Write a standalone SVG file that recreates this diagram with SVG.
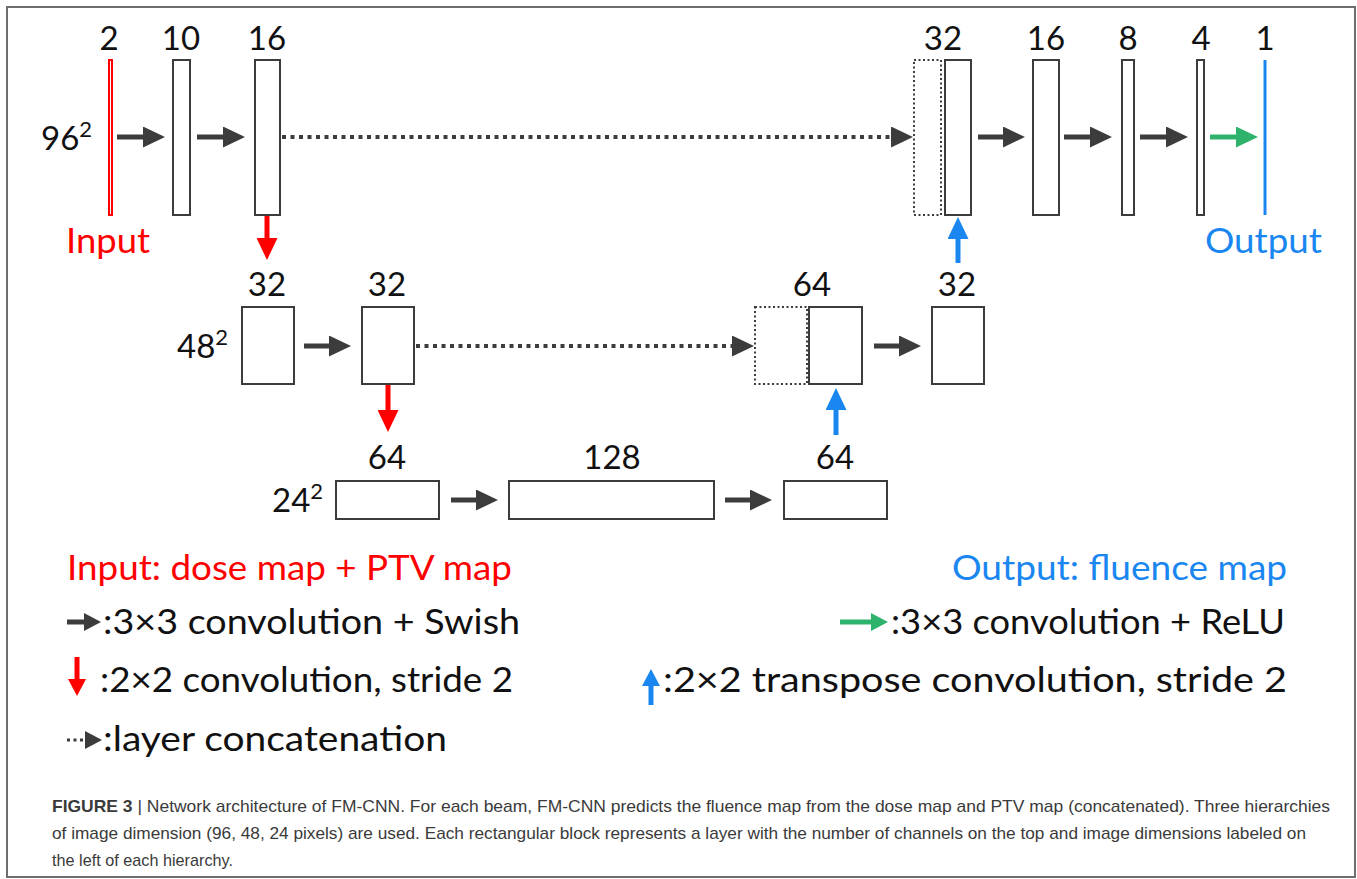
<svg xmlns="http://www.w3.org/2000/svg" width="1357" height="879" viewBox="0 0 1357 879">
  <style>
    .frame { fill: #ffffff; stroke: #6e6e6e; stroke-width: 2; }
    .box { fill: #ffffff; stroke: #3c3c3c; stroke-width: 2; }
    .ghost { fill: none; stroke: #3c3c3c; stroke-width: 2; stroke-dasharray: 2 2.5; }
    .lbl { font-family: Lato, "Open Sans", sans-serif; font-size: 33px; fill: #111111; text-anchor: middle; }
    .dim { font-family: Lato, "Open Sans", sans-serif; font-size: 33px; fill: #111111; }
    .sup { font-size: 22px; }
    .leg { font-family: Lato, "Open Sans", sans-serif; font-size: 34px; fill: #111111; }
    .red { fill: #ff0000; }
    .blue { fill: #1a86f0; }
    .cap { font-family: "Liberation Sans Narrow", "Liberation Sans", Arial, sans-serif; font-size: 17px; fill: #3a3a3a; }
    .conv { stroke: #3c3c3c; stroke-width: 5; fill: none; }
    .cat { stroke: #3c3c3c; stroke-width: 4; stroke-dasharray: 4 4.5; fill: none; }
    .down { stroke: #ff0000; stroke-width: 5; fill: none; }
    .up { stroke: #1a86f0; stroke-width: 5; fill: none; }
    .relu { stroke: #2fb36c; stroke-width: 5; fill: none; }
  </style>
  <defs>
    <marker id="ah-dark" viewBox="0 0 22 21" refX="1" refY="10.5" markerWidth="22" markerHeight="21" markerUnits="userSpaceOnUse" orient="auto">
      <path d="M0,0 L22,10.5 L0,21 Z" fill="#3c3c3c"/>
    </marker>
    <marker id="ah-red" viewBox="0 0 22 21" refX="1" refY="10.5" markerWidth="22" markerHeight="21" markerUnits="userSpaceOnUse" orient="auto">
      <path d="M0,0 L22,10.5 L0,21 Z" fill="#ff0000"/>
    </marker>
    <marker id="ah-blue" viewBox="0 0 22 21" refX="1" refY="10.5" markerWidth="22" markerHeight="21" markerUnits="userSpaceOnUse" orient="auto">
      <path d="M0,0 L22,10.5 L0,21 Z" fill="#1a86f0"/>
    </marker>
    <marker id="ah-green" viewBox="0 0 22 21" refX="1" refY="10.5" markerWidth="22" markerHeight="21" markerUnits="userSpaceOnUse" orient="auto">
      <path d="M0,0 L22,10.5 L0,21 Z" fill="#2fb36c"/>
    </marker>
    <marker id="sm-dark" viewBox="0 0 17 18" refX="1" refY="9" markerWidth="17" markerHeight="18" markerUnits="userSpaceOnUse" orient="auto">
      <path d="M0,0 L17,9 L0,18 Z" fill="#3c3c3c"/>
    </marker>
    <marker id="sm-red" viewBox="0 0 17 18" refX="1" refY="9" markerWidth="17" markerHeight="18" markerUnits="userSpaceOnUse" orient="auto">
      <path d="M0,0 L17,9 L0,18 Z" fill="#ff0000"/>
    </marker>
    <marker id="sm-blue" viewBox="0 0 17 18" refX="1" refY="9" markerWidth="17" markerHeight="18" markerUnits="userSpaceOnUse" orient="auto">
      <path d="M0,0 L17,9 L0,18 Z" fill="#1a86f0"/>
    </marker>
    <marker id="sm-green" viewBox="0 0 17 18" refX="1" refY="9" markerWidth="17" markerHeight="18" markerUnits="userSpaceOnUse" orient="auto">
      <path d="M0,0 L17,9 L0,18 Z" fill="#2fb36c"/>
    </marker>
  </defs>

  <rect class="frame" x="7" y="7" width="1348" height="870"/>

  <!-- resolution labels for each hierarchy -->
  <text class="dim" x="41" y="150">96<tspan class="sup" dy="-13">2</tspan></text>
  <text class="dim" x="177" y="358">48<tspan class="sup" dy="-13">2</tspan></text>
  <text class="dim" x="272" y="512">24<tspan class="sup" dy="-13">2</tspan></text>

  <!-- level 1 (96 x 96) -->
  <g id="node-in">
    <rect x="109" y="60" width="3" height="155" fill="#ffffff" stroke="#ff0000" stroke-width="2"/>
    <text class="lbl" x="109" y="50">2</text>
    <text class="leg red" x="66" y="253" textLength="84" lengthAdjust="spacingAndGlyphs">Input</text>
  </g>
  <g id="node-e10">
    <rect class="box" x="173" y="60" width="17" height="155"/>
    <text class="lbl" x="181" y="50">10</text>
  </g>
  <g id="node-e16">
    <rect class="box" x="255" y="60" width="25" height="155"/>
    <text class="lbl" x="267" y="50">16</text>
  </g>
  <g id="node-d32">
    <rect class="ghost" x="914" y="60" width="27" height="155"/>
    <rect class="box" x="945" y="60" width="26" height="155"/>
    <text class="lbl" x="943" y="50">32</text>
  </g>
  <g id="node-d16">
    <rect class="box" x="1033" y="60" width="26" height="155"/>
    <text class="lbl" x="1046" y="50">16</text>
  </g>
  <g id="node-d8">
    <rect class="box" x="1122" y="60" width="12" height="155"/>
    <text class="lbl" x="1128" y="50">8</text>
  </g>
  <g id="node-d4">
    <rect class="box" x="1197" y="60" width="7" height="155"/>
    <text class="lbl" x="1201" y="50">4</text>
  </g>
  <g id="node-out">
    <line x1="1265" y1="60" x2="1265" y2="215" stroke="#1a86f0" stroke-width="3"/>
    <text class="lbl" x="1265" y="50">1</text>
    <text class="leg blue" x="1205" y="253" textLength="117" lengthAdjust="spacingAndGlyphs">Output</text>
  </g>

  <!-- level 2 (48 x 48) -->
  <g id="node-m32a">
    <rect class="box" x="242" y="307" width="52" height="77"/>
    <text class="lbl" x="267" y="296">32</text>
  </g>
  <g id="node-m32b">
    <rect class="box" x="362" y="307" width="52" height="77"/>
    <text class="lbl" x="387" y="296">32</text>
  </g>
  <g id="node-m64">
    <rect class="ghost" x="755" y="307" width="52" height="77"/>
    <rect class="box" x="809" y="307" width="53" height="77"/>
    <text class="lbl" x="812" y="296">64</text>
  </g>
  <g id="node-m32c">
    <rect class="box" x="932" y="307" width="52" height="77"/>
    <text class="lbl" x="957" y="296">32</text>
  </g>

  <!-- level 3 (24 x 24) -->
  <g id="node-b64a">
    <rect class="box" x="336" y="481" width="103" height="38"/>
    <text class="lbl" x="387" y="469">64</text>
  </g>
  <g id="node-b128">
    <rect class="box" x="509" y="481" width="205" height="38"/>
    <text class="lbl" x="612" y="469">128</text>
  </g>
  <g id="node-b64b">
    <rect class="box" x="784" y="481" width="103" height="38"/>
    <text class="lbl" x="835" y="469">64</text>
  </g>

  <g id="connectors">
    <!-- 3x3 convolution + Swish -->
    <line class="conv" x1="117" y1="137" x2="144" y2="137" marker-end="url(#ah-dark)"/>
    <line class="conv" x1="197" y1="137" x2="224" y2="137" marker-end="url(#ah-dark)"/>
    <line class="conv" x1="978" y1="137" x2="1004" y2="137" marker-end="url(#ah-dark)"/>
    <line class="conv" x1="1064" y1="137" x2="1091" y2="137" marker-end="url(#ah-dark)"/>
    <line class="conv" x1="1140" y1="137" x2="1167" y2="137" marker-end="url(#ah-dark)"/>
    <line class="conv" x1="304" y1="346" x2="330" y2="346" marker-end="url(#ah-dark)"/>
    <line class="conv" x1="874" y1="346" x2="900" y2="346" marker-end="url(#ah-dark)"/>
    <line class="conv" x1="451" y1="500" x2="477" y2="500" marker-end="url(#ah-dark)"/>
    <line class="conv" x1="725" y1="500" x2="751" y2="500" marker-end="url(#ah-dark)"/>
    <!-- 3x3 convolution + ReLU -->
    <line class="relu" x1="1210" y1="137" x2="1237" y2="137" marker-end="url(#ah-green)"/>
    <!-- layer concatenation -->
    <line class="cat" x1="282" y1="137" x2="892" y2="137" marker-end="url(#ah-dark)"/>
    <line class="cat" x1="416" y1="346" x2="733" y2="346" marker-end="url(#ah-dark)"/>
    <!-- 2x2 convolution, stride 2 -->
    <line class="down" x1="267" y1="216" x2="267" y2="239" marker-end="url(#ah-red)"/>
    <line class="down" x1="388" y1="385" x2="388" y2="411" marker-end="url(#ah-red)"/>
    <!-- 2x2 transpose convolution, stride 2 -->
    <line class="up" x1="958" y1="263" x2="958" y2="238" marker-end="url(#ah-blue)"/>
    <line class="up" x1="836" y1="435" x2="836" y2="409" marker-end="url(#ah-blue)"/>
  </g>

  <!-- legend -->
  <g id="legend">
    <text class="leg red" x="67" y="580" textLength="445" lengthAdjust="spacingAndGlyphs">Input: dose map + PTV map</text>
    <line class="conv" x1="67" y1="622" x2="85" y2="622" marker-end="url(#sm-dark)"/>
    <text class="leg" x="103" y="634" textLength="417" lengthAdjust="spacingAndGlyphs">:3×3 convolution + Swish</text>
    <line class="down" x1="77" y1="657" x2="77" y2="680" marker-end="url(#sm-red)"/>
    <text class="leg" x="100" y="692" textLength="413" lengthAdjust="spacingAndGlyphs">:2×2 convolution, stride 2</text>
    <line x1="67" y1="740" x2="86" y2="740" stroke="#3c3c3c" stroke-width="3" stroke-dasharray="3 3.5" marker-end="url(#sm-dark)"/>
    <text class="leg" x="103" y="751" textLength="344" lengthAdjust="spacingAndGlyphs">:layer concatenation</text>

    <text class="leg blue" x="952" y="580" textLength="335" lengthAdjust="spacingAndGlyphs">Output: fluence map</text>
    <line class="relu" x1="840" y1="622" x2="872" y2="622" marker-end="url(#sm-green)"/>
    <text class="leg" x="891" y="634" textLength="394" lengthAdjust="spacingAndGlyphs">:3×3 convolution + ReLU</text>
    <line class="up" x1="651" y1="705" x2="651" y2="685" marker-end="url(#sm-blue)"/>
    <text class="leg" x="663" y="692" textLength="624" lengthAdjust="spacingAndGlyphs">:2×2 transpose convolution, stride 2</text>
  </g>

  <!-- figure caption -->
  <g id="caption">
    <text class="cap" x="52" y="812" textLength="1278" lengthAdjust="spacingAndGlyphs"><tspan font-weight="bold">FIGURE 3</tspan> | Network architecture of FM-CNN. For each beam, FM-CNN predicts the fluence map from the dose map and PTV map (concatenated). Three hierarchies</text>
    <text class="cap" x="52" y="839" textLength="1254" lengthAdjust="spacingAndGlyphs">of image dimension (96, 48, 24 pixels) are used. Each rectangular block represents a layer with the number of channels on the top and image dimensions labeled on</text>
    <text class="cap" x="52" y="866" textLength="181" lengthAdjust="spacingAndGlyphs">the left of each hierarchy.</text>
  </g>
</svg>
